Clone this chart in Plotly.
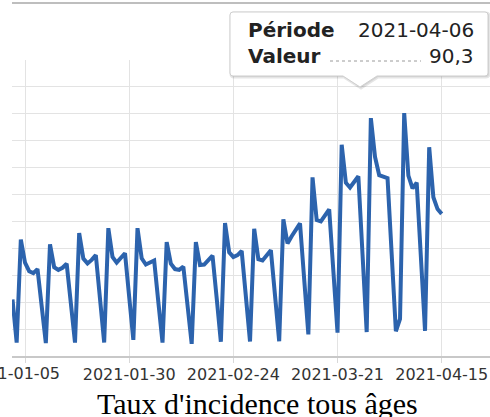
import plotly.graph_objects as go
import pandas as pd

# ---- data ----
start_date = "2021-01-02"
values = [
    21.0, 5.0,
    43.3, 34.7, 31.5, 30.8, 32.3, 18.5, 4.8,
    41.5, 33.0, 32.0, 32.8, 34.3, 19.5, 5.0,
    45.7, 36.2, 34.4, 35.7, 37.5, 21.0, 5.0,
    47.5, 36.8, 34.7, 36.5, 38.2, 22.0, 6.0,
    47.5, 36.3, 34.0, 34.8, 35.5, 20.0, 5.0,
    42.3, 34.3, 32.3, 32.0, 33.2, 19.0, 4.5,
    42.3, 33.8, 34.0, 35.5, 37.3, 21.5, 5.3,
    49.4, 38.5, 36.8, 37.5, 39.0, 22.0, 5.4,
    47.3, 36.0, 35.5, 37.2, 39.3, 22.5, 5.5,
    50.8, 41.8, 44.5, 46.8, 49.3, 28.5, 8.0,
    66.4, 50.5, 50.0, 52.2, 54.5, 31.5, 8.7,
    78.5, 64.4, 62.6, 64.5, 66.8, 37.8, 8.9,
    88.4, 74.0, 67.2, 66.6, 66.1, 37.8, 9.2,
    13.8, 90.3, 67.0, 62.3, 64.4, 37.0, 9.3,
    77.6, 59.0, 54.6, 52.8,
]
dates = pd.date_range(start_date, periods=len(values), freq="D")
tick_dates = ["2021-01-05", "2021-01-30", "2021-02-24", "2021-03-21", "2021-04-15"]
y_ticks = [0, 10, 20, 30, 40, 50, 60, 70, 80, 90, 100, 110]
title_text = "Taux d'incidence tous âges"
tip_labels = ["Période", "Valeur"]
tip_values = ["2021-04-06", "90,3"]

# ---- layout geometry (pixels) ----
W, H = 490, 417
L, R, T, B = 12, 0, 60, 61
PW, PH = W - L - R, H - T - B


def px(x):
    return (x - L) / PW


def py(y):
    return (H - B - y) / PH


def path(points):
    s = ""
    for cmd, pts in points:
        s += cmd + " " + " ".join(f"{px(a):.5f},{py(b):.5f}" for a, b in pts) + " "
    return s + "Z"


fig = go.Figure()
fig.add_trace(go.Scatter(
    x=dates, y=values, mode="lines",
    line=dict(color="#2c63ad", width=4),
    hoverinfo="skip", showlegend=False,
))


def box(dx=0, dy=0):
    x0, x1, y0, y1, r = 230 + dx, 488 + dx, 12 + dy, 76 + dy, 3
    return path([
        ("M", [(x0 + r, y0)]), ("L", [(x1 - r, y0)]), ("Q", [(x1, y0), (x1, y0 + r)]),
        ("L", [(x1, y1 - r)]), ("Q", [(x1, y1), (x1 - r, y1)]),
        ("L", [(377 + dx, y1)]), ("L", [(360 + dx, 87 + dy)]), ("L", [(343 + dx, y1)]),
        ("L", [(x0 + r, y1)]), ("Q", [(x0, y1), (x0, y1 - r)]),
        ("L", [(x0, y0 + r)]), ("Q", [(x0, y0), (x0 + r, y0)]),
    ])


shapes = [
    dict(type="line", xref="paper", yref="paper", x0=0, x1=1, y0=py(3), y1=py(3),
         line=dict(color="#a8a8a8", width=1.5), layer="above"),
    dict(type="path", xref="paper", yref="paper", path=box(1, 1),
         fillcolor="rgba(0,0,0,0.08)", line=dict(color="rgba(0,0,0,0.10)", width=3), layer="above"),
    dict(type="path", xref="paper", yref="paper", path=box(),
         fillcolor="rgba(255,255,255,1)", line=dict(color="#cfcfcf", width=1), layer="above"),
    dict(type="line", xref="paper", yref="paper", x0=px(330), x1=px(421), y0=py(61), y1=py(61),
         line=dict(color="#9a9a9a", width=1, dash="dot"), layer="above"),
]

tipfont = "DejaVu Sans"
annotations = [
    dict(text=f"<b>{tip_labels[0]}</b>", x=px(246), y=py(30), xanchor="left", yanchor="middle"),
    dict(text=tip_values[0], x=px(476), y=py(30), xanchor="right", yanchor="middle"),
    dict(text=f"<b>{tip_labels[1]}</b>", x=px(246), y=py(56.5), xanchor="left", yanchor="middle"),
    dict(text=tip_values[1], x=px(476), y=py(56.5), xanchor="right", yanchor="middle"),
]
for a in annotations:
    a.update(xref="paper", yref="paper", showarrow=False,
             font=dict(family=tipfont, size=20, color="#222"))
annotations.append(dict(
    text=title_text, x=px(257.5), y=py(403), xref="paper", yref="paper",
    xanchor="center", yanchor="middle", showarrow=False,
    font=dict(family="Liberation Serif, Times New Roman, serif", size=30, color="#000"),
))
# first x label, justified leftwards as in the reference
annotations.append(dict(
    text=tick_dates[0], x=px(13), y=py(373.5), xref="paper", yref="paper",
    xanchor="center", yanchor="middle", showarrow=False,
    font=dict(family="DejaVu Sans", size=16, color="#333"),
))

fig.update_layout(
    width=W, height=H,
    margin=dict(l=L, r=R, t=T, b=B, pad=0),
    paper_bgcolor="white", plot_bgcolor="white",
    showlegend=False, hovermode=False,
    shapes=shapes, annotations=annotations,
    xaxis=dict(
        range=["2021-01-01 21:07", "2021-04-26 14:10"],
        tickvals=tick_dates, ticktext=[""] + tick_dates[1:],
        showgrid=True, gridcolor="#e3e3e3", gridwidth=1,
        ticks="outside", ticklen=5, tickcolor="#d8d8d8",
        showline=True, linecolor="#c8c8c8", linewidth=2,
        tickfont=dict(family="DejaVu Sans", size=16, color="#333"),
        ticklabeloverflow="allow", ticklabelstandoff=-2,
        zeroline=False, automargin=False,
    ),
    yaxis=dict(
        range=[0, 110], tickvals=y_ticks, showticklabels=False,
        showgrid=True, gridcolor="#e3e3e3", gridwidth=1,
        zeroline=False, showline=False, automargin=False,
    ),
)

fig.write_html(
    "out.html",
    config={"displayModeBar": False, "staticPlot": True},
    post_script="document.body.style.margin='0';document.body.style.overflow='hidden';",
)
